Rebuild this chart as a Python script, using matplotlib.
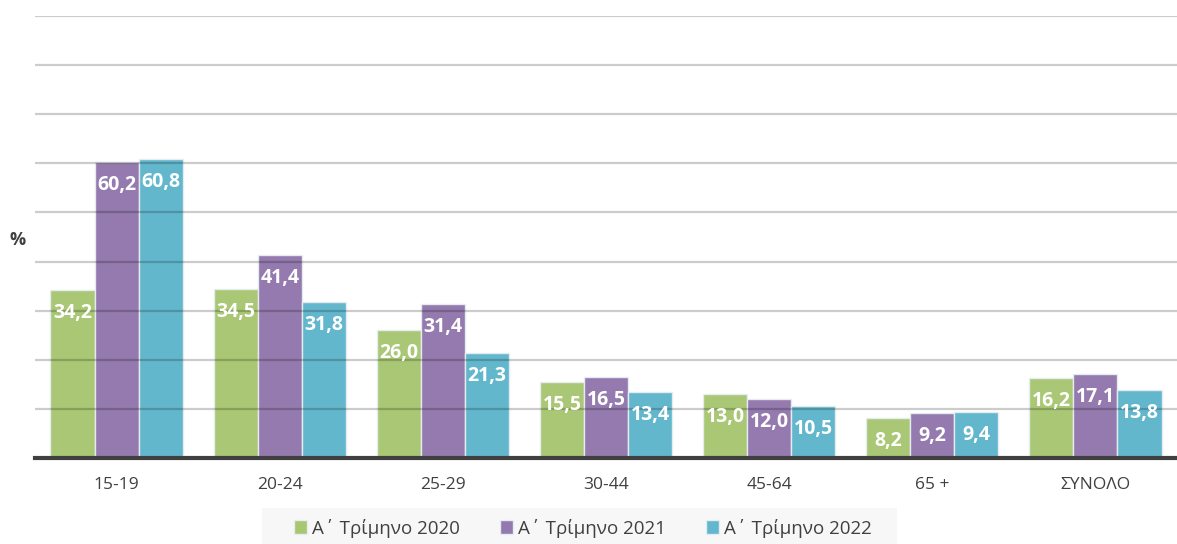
import matplotlib
matplotlib.use("Agg")
import matplotlib.pyplot as plt
from matplotlib.patches import Rectangle
import numpy as np

categories = ["15-19", "20-24", "25-29", "30-44", "45-64", "65 +", "ΣΥΝΟΛΟ"]
series_names = ["Α΄ Τρίμηνο 2020", "Α΄ Τρίμηνο 2021", "Α΄ Τρίμηνο 2022"]
v2020 = [34.2, 34.5, 26.0, 15.5, 13.0, 8.2, 16.2]
v2021 = [60.2, 41.4, 31.4, 16.5, 12.0, 9.2, 17.1]
v2022 = [60.8, 31.8, 21.3, 13.4, 10.5, 9.4, 13.8]
colors = ["#A5C46C", "#8E73AA", "#5BB3CB"]

plt.rcParams['font.family'] = ['Open Sans', 'DejaVu Sans']

fig = plt.figure(figsize=(11.77, 5.44), dpi=100)
ax = fig.add_axes([35/1177, 1-458/544, 1142/1177, (458-16)/544])

x = np.arange(len(categories))
w = 0.27
handles = []
for i, (vals, c, name) in enumerate(zip([v2020, v2021, v2022], colors, series_names)):
    pos = x + (i - 1) * w
    bars = ax.bar(pos, vals, width=w, color=c, alpha=0.95, edgecolor="#e8eef2",
                  linewidth=1.0, label=name, zorder=2)
    handles.append(bars)
    for b, v in zip(bars, vals):
        ax.annotate(f"{v:.1f}".replace(".", ","), (b.get_x() + b.get_width()/2, v),
                    xytext=(0, -23), textcoords="offset pixels",
                    ha="center", va="center", color="white", fontsize=14,
                    fontweight="bold", zorder=4)

ax.set_xlim(-0.5, 6.5)
ax.set_ylim(0, 90)
ax.set_yticks(np.arange(10, 91, 10))
ax.yaxis.grid(True, color="black", alpha=0.2, linewidth=1.6)
ax.set_axisbelow(False)
for gl in ax.yaxis.get_gridlines():
    gl.set_zorder(3)
ax.tick_params(axis="y", left=False, labelleft=False)
ax.tick_params(axis="x", length=0, pad=14, labelsize=12.5, labelcolor="#404040")
ax.set_xticks(x)
ax.set_xticklabels(categories)
for s in ["top", "right", "left"]:
    ax.spines[s].set_visible(False)
ax.spines["bottom"].set_color("#404040")
ax.spines["bottom"].set_linewidth(3)
ax.spines["bottom"].set_zorder(5)

fig.text(18/1177, 1-240/544, "%", ha="center", va="center", fontsize=13,
         fontweight="bold", color="#404040")

fig.patches.append(Rectangle((262/1177, 0), (897-262)/1177, (544-508)/544,
                             transform=fig.transFigure, facecolor="#f7f7f7",
                             edgecolor="none", zorder=0))

leg = fig.legend(handles, series_names, loc="center", bbox_to_anchor=(583/1177, 1-528/544),
                 ncol=3, frameon=False, fontsize=13.5, handlelength=0.7, handleheight=0.7,
                 handletextpad=0.3, columnspacing=2.1, borderpad=0.4)
leg.set_zorder(10)
for t in leg.get_texts():
    t.set_color("#404040")

fig.savefig("out.png", dpi=100)
